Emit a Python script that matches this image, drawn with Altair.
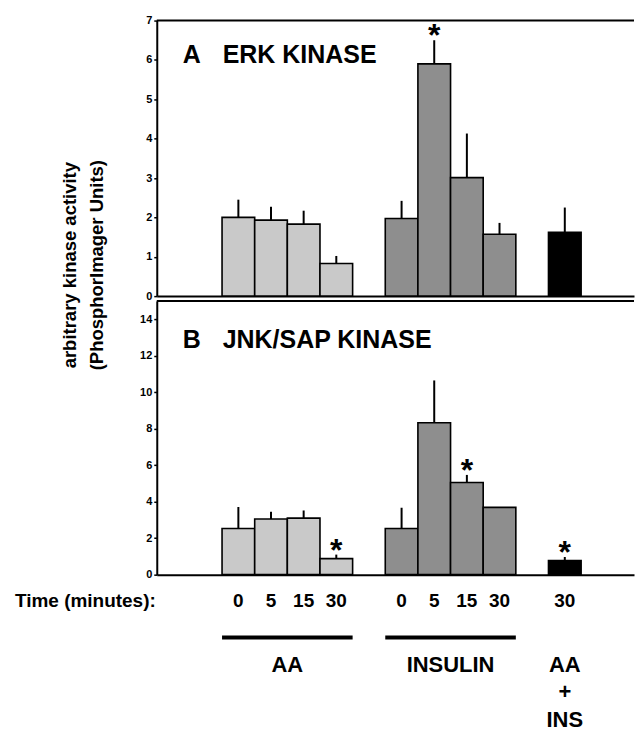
import altair as alt
import pandas as pd

FONT = "Liberation Sans"

# ---------------- data ----------------
group_names = ["AA", "INSULIN", "AA+INS"]
group_times = [[0, 5, 15, 30], [0, 5, 15, 30], [30]]
group_colors = ["#c9c9c9", "#8e8e8e", "#000000"]
group_has_line = [True, True, False]
group_labels = ["AA", "INSULIN", "AA\n+\nINS"]

erk_mean = [2.00, 1.93, 1.83, 0.83, 1.97, 5.90, 3.01, 1.57, 1.62]
erk_err = [0.45, 0.34, 0.34, 0.19, 0.45, 0.60, 1.12, 0.29, 0.63]
erk_sig = [0, 0, 0, 0, 0, 1, 0, 0, 0]

jnk_mean = [2.53, 3.05, 3.10, 0.88, 2.53, 8.33, 5.05, 3.69, 0.77]
jnk_err = [1.18, 0.40, 0.42, 0.22, 1.14, 2.32, 0.42, 0.00, 0.20]
jnk_sig = [0, 0, 0, 1, 0, 0, 1, 0, 1]

erk_ticks = [0, 1, 2, 3, 4, 5, 6, 7]
jnk_ticks = [0, 2, 4, 6, 8, 10, 12, 14]

y_title = ["arbitrary kinase activity", "(PhosphorImager Units)"]
time_title = "Time (minutes):"

# ---------------- layout helpers ----------------
W = 478
HA = 276
HB = 274

keys, grp, tms = [], [], []
domain = ["gap0", "gap1"]
for gi, (g, ts) in enumerate(zip(group_names, group_times)):
    for t in ts:
        k = f"{g} {t}"
        keys.append(k)
        grp.append(g)
        tms.append(str(t))
        domain.append(k)
    domain.append(f"gap{gi + 2}")

xscale = alt.Scale(domain=domain, paddingInner=0, paddingOuter=0.31, align=0)
xaxis = alt.Axis(labels=False, ticks=False, domain=True, domainColor="black",
                 domainWidth=2, title=None, grid=False)


def tx(text, x, y, size, align="left", angle=0):
    kw = dict(font=FONT, fontWeight="bold", fontSize=size, align=align,
              baseline="middle", color="black")
    if angle:
        kw["angle"] = angle
    return alt.Chart(pd.DataFrame({"t": [text]})).mark_text(**kw).encode(
        text="t:N", x=alt.value(x), y=alt.value(y))


def panel(mean, err, sig, ymax, ticks, letter, name, title_y, title_size):
    df = pd.DataFrame({
        "key": keys, "group": grp, "time": tms,
        "mean": mean, "err": err,
        "top": [m + e for m, e in zip(mean, err)], "sig": sig,
    })
    base = alt.Chart(df)
    yscale = alt.Scale(domain=[0, ymax], nice=False, zero=True)
    yaxis = alt.Axis(values=ticks, title=None, grid=False, domainColor="black",
                     domainWidth=2, tickColor="black", tickWidth=1.5, tickSize=3,
                     labelFont=FONT, labelFontWeight="bold", labelFontSize=11,
                     labelColor="black", labelPadding=2, labelOverlap=False,
                     labelFlush=False, labelBound=False)
    bars = base.mark_bar(stroke="black", strokeWidth=1.6).encode(
        x=alt.X("key:N", scale=xscale, axis=xaxis),
        y=alt.Y("mean:Q", scale=yscale, axis=yaxis),
        color=alt.Color("group:N", scale=alt.Scale(domain=group_names, range=group_colors),
                        legend=None),
    )
    errs = base.transform_filter("datum.err > 0").mark_rule(
        color="black", strokeWidth=2).encode(
        x=alt.X("key:N"), y=alt.Y("mean:Q", axis=yaxis), y2="top:Q")
    stars = base.transform_filter("datum.sig == 1").mark_text(
        text="*", font=FONT, fontWeight="bold", fontSize=32, baseline="middle",
        dy=-4, color="black").encode(x=alt.X("key:N"), y=alt.Y("top:Q", axis=yaxis))
    top_rule = alt.Chart(pd.DataFrame({"a": [0]})).mark_rule(
        color="black", strokeWidth=2).encode(
        x=alt.value(0), x2=alt.value(W), y=alt.value(0))
    t1 = tx(letter, 26, title_y, title_size)
    t2 = tx(name, 66, title_y, title_size)
    return base, [bars, errs, stars, top_rule, t1, t2]


# ---------------- panel A ----------------
_, layersA = panel(erk_mean, erk_err, erk_sig, 7, erk_ticks, "A", "ERK KINASE", 35, 25)
layersA += [
    tx(y_title[0], -87, 245, 18.5, align="center", angle=270),
    tx(y_title[1], -60, 245, 18.5, align="center", angle=270),
]
chartA = alt.layer(*layersA).properties(width=W, height=HA)

# ---------------- panel B ----------------
baseB, layersB = panel(jnk_mean, jnk_err, jnk_sig, 15, jnk_ticks, "B", "JNK/SAP KINASE", 39, 25)

time_labels = baseB.mark_text(font=FONT, fontWeight="bold", fontSize=19,
                              baseline="middle", color="black").encode(
    x=alt.X("key:N"), y=alt.value(HB + 26), text="time:N")

gdf = pd.DataFrame({
    "group": group_names,
    "first": [f"{g} {ts[0]}" for g, ts in zip(group_names, group_times)],
    "last": [f"{g} {ts[-1]}" for g, ts in zip(group_names, group_times)],
    "mid": [f"{g} {ts[len(ts) // 2]}" for g, ts in zip(group_names, group_times)],
    "n": [len(ts) for ts in group_times],
    "line": group_has_line,
    "label": group_labels,
})
gbase = alt.Chart(gdf)
glines = gbase.transform_filter("datum.line").mark_rule(
    color="black", strokeWidth=4).encode(
    x=alt.X("first:N", bandPosition=0), x2=alt.X2("last:N", bandPosition=1),
    y=alt.value(HB + 63))
glabels_even = gbase.transform_filter("datum.n % 2 == 0").mark_text(
    font=FONT, fontWeight="bold", fontSize=22, baseline="middle", color="black").encode(
    x=alt.X("mid:N", bandPosition=0), y=alt.value(HB + 90), text="label:N")
glabels_odd = gbase.transform_filter("datum.n % 2 == 1").mark_text(
    font=FONT, fontWeight="bold", fontSize=22, baseline="middle", color="black",
    lineBreak="\n", lineHeight=28).encode(
    x=alt.X("mid:N"), y=alt.value(HB + 90), text="label:N")

layersB += [
    tx(time_title, -142, HB + 26, 19),
    time_labels, glines, glabels_even, glabels_odd,
]
chartB = alt.layer(*layersB).properties(width=W, height=HB)

chart = alt.vconcat(chartA, chartB, spacing=5, bounds="flush").properties(
    padding={"left": 7, "top": 6, "right": 0, "bottom": 0},
    background="white",
).configure_view(stroke=None).configure_axis(labelOverlap=False)

chart.save("out.html", embed_options={"renderer": "svg", "actions": False})
